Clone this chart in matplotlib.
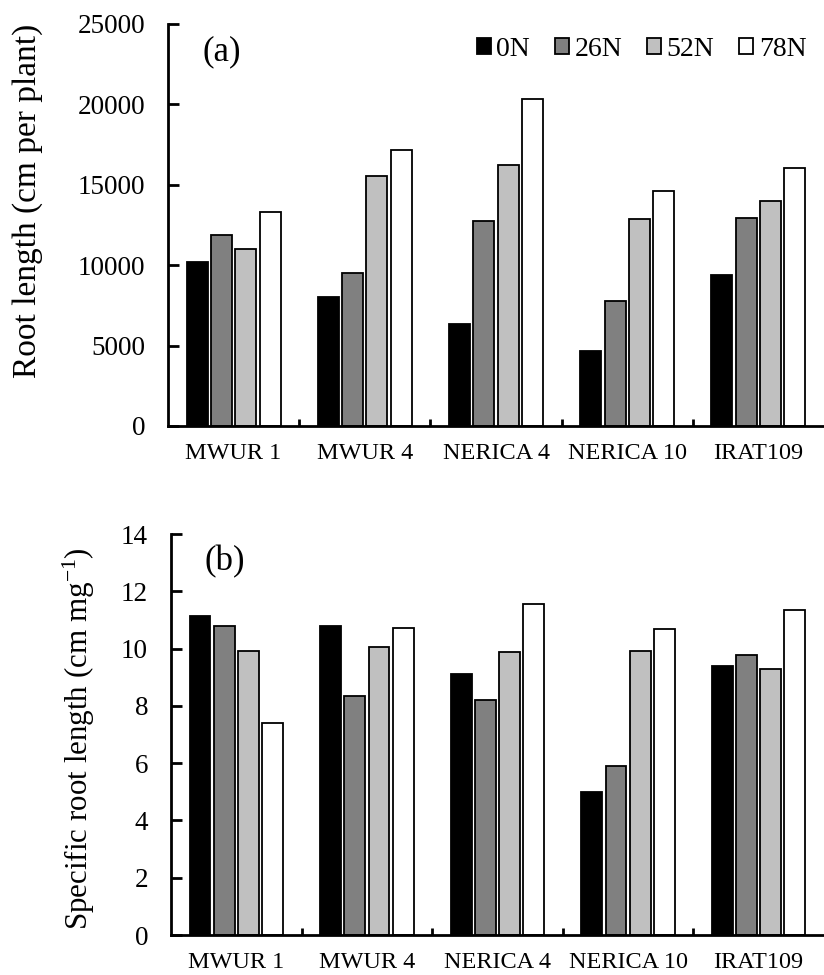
import numpy as np
import matplotlib
matplotlib.use("Agg")
import matplotlib.pyplot as plt

plt.rcParams['font.family'] = ['Liberation Serif', 'DejaVu Serif']
plt.rcParams['mathtext.default'] = 'regular'

cultivars = ["MWUR 1", "MWUR 4", "NERICA 4", "NERICA 10", "IRAT109"]
treatments = ["0N", "26N", "52N", "78N"]
colors = ["#000000", "#808080", "#c0c0c0", "#ffffff"]

# root length (cm per plant), one list per N level
rl_0N = [10200, 8000, 6350, 4650, 9400]
rl_26N = [11850, 9500, 12750, 7750, 12950]
rl_52N = [11000, 15550, 16200, 12900, 14000]
rl_78N = [13300, 17150, 20350, 14600, 16050]

# specific root length (cm mg-1)
srl_0N = [11.15, 10.8, 9.1, 5.0, 9.4]
srl_26N = [10.8, 8.33, 8.2, 5.9, 9.78]
srl_52N = [9.93, 10.05, 9.87, 9.9, 9.27]
srl_78N = [7.4, 10.73, 11.55, 10.68, 11.33]

fig = plt.figure(figsize=(8.24, 9.75), dpi=100)
ax1 = fig.add_axes([0.2039, 0.5631, 0.7961, 0.4123])
ax2 = fig.add_axes([0.2075, 0.0410, 0.7925, 0.4113])

x = np.arange(len(cultivars)) + 0.5
pitch = 0.185
width = 0.16


def draw(ax, series, ymax, ystep, ylabel, ylabel_size, label_x, label_y, panel):
    for i, vals in enumerate(series):
        ax.bar(x + (i - 1.5) * pitch, vals, width, color=colors[i],
               edgecolor='black', linewidth=1.3, label=treatments[i])
    ax.set_xlim(0, len(cultivars))
    ax.set_ylim(0, ymax)
    ax.set_yticks(np.arange(0, ymax + ystep / 2, ystep))
    ax.set_xticks(np.arange(1, len(cultivars)))
    ax.set_xticklabels([])
    ax.set_xticks(x, minor=True)
    ax.set_xticklabels(cultivars, minor=True, fontsize=17.5)
    ax.tick_params(axis='x', which='minor', length=0, pad=12.5)
    ax.tick_params(axis='x', which='major', direction='in', length=5, width=2)
    ax.tick_params(axis='y', direction='in', length=8, width=2, labelsize=19.5, pad=16.5)
    ax.spines['top'].set_visible(False)
    ax.spines['right'].set_visible(False)
    ax.spines['left'].set_linewidth(2)
    ax.spines['bottom'].set_linewidth(2)
    ax.set_ylabel(ylabel, fontsize=ylabel_size)
    ax.yaxis.set_label_coords(label_x, label_y)
    ax.text(0.052, 0.93, panel, transform=ax.transAxes, fontsize=25,
            ha='left', va='center')


draw(ax1, [rl_0N, rl_26N, rl_52N, rl_78N], 25000, 5000,
     "Root length (cm per plant)", 24, -0.19, 0.56, "(a)")
draw(ax2, [srl_0N, srl_26N, srl_52N, srl_78N], 14, 2,
     "Specific root length (cm mg$^{-1}$)", 22.3, -0.113, 0.49, "(b)")

ax1.legend(loc='upper right', bbox_to_anchor=(0.99, 0.995), ncol=4, frameon=False,
           fontsize=20, handlelength=0.5, handleheight=0.5, handletextpad=0.2,
           columnspacing=0.9, borderaxespad=0)

fig.savefig("out.png", dpi=100)
